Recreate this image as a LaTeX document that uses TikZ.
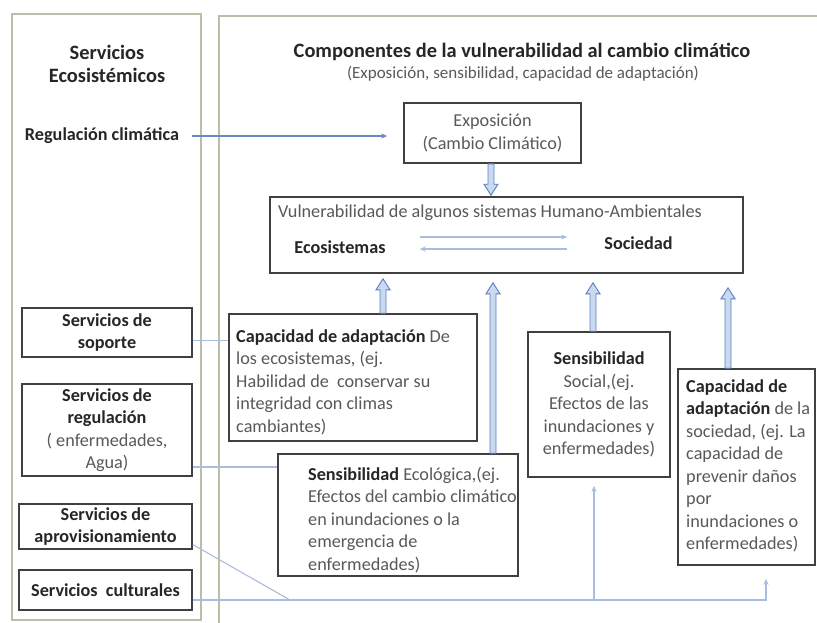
\documentclass[tikz,border=0pt]{standalone}
\usepackage{fontspec}
\setmainfont{Carlito}
\usetikzlibrary{calc,arrows.meta}
\definecolor{panelbeige}{HTML}{BDBDA6}
\definecolor{boxgray}{HTML}{404040}
\definecolor{txtgray}{HTML}{595959}
\definecolor{txtdark}{HTML}{262626}
\definecolor{linkblue}{HTML}{A9BEDF}
\definecolor{regblue}{HTML}{6A8BC2}
\definecolor{arrowblue}{HTML}{5B7FBF}
\definecolor{fillblue}{HTML}{C9D9F0}

\newcommand{\kw}[1]{{\bfseries\color{txtdark}#1}}
% hollow block arrow: x, from anchor, to anchor, gap at tip, head length (+ up, - down)
\newcommand{\blockarrow}[5]{%
  \draw[blockarr]
    (#1-3,0 |- #2) -- ($(#1-3,0 |- #3)+(0,#4+#5)$)
    -- ($(#1-7,0 |- #3)+(0,#4+#5)$) -- ($(#1,0 |- #3)+(0,#4)$)
    -- ($(#1+7,0 |- #3)+(0,#4+#5)$) -- ($(#1+3,0 |- #3)+(0,#4+#5)$)
    -- (#1+3,0 |- #2) -- cycle;}

\tikzset{
  panel/.style={draw=panelbeige, line width=2.5pt},
  box/.style={draw=boxgray, line width=1.6pt, inner sep=0pt},
  txt/.style={text=txtgray, font=\fontsize{18.2}{22.5}\selectfont, inner sep=0pt},
  boldtxt/.style={text=txtdark, font=\fontsize{18.2}{22.5}\selectfont\bfseries, inner sep=0pt},
  titletxt/.style={text=txtdark, font=\fontsize{20.4}{23}\selectfont\bfseries, inner sep=0pt},
  link/.style={draw=linkblue, line width=1.1pt},
  regarrow/.style={draw=regblue, line width=1.4pt},
  blockarr/.style={draw=arrowblue, fill=fillblue, line width=0.9pt, line join=miter},
}

\begin{document}
\begin{tikzpicture}[x=1pt, y=-1pt, >={Stealth[length=6pt,width=5pt]}]
  % page 817 x 622, y grows downwards (pixels of the original)
  \path[use as bounding box, fill=white] (0,0) rectangle (817,622);

  % the two panels
  \draw[panel] (12,14) rectangle (201,620);
  \draw[panel] (219,16) rectangle (840,640);

  % titles
  \node[titletxt, align=center] (setit) at (107,64) {Servicios\\Ecosistémicos};
  \node[titletxt] (comptit) at (522,52) {Componentes de la vulnerabilidad al cambio climático};
  \node[txt, font=\fontsize{17}{20}\selectfont] (compsub) at (523,74) {(Exposición, sensibilidad, capacidad de adaptación)};
  \node[boldtxt] (regclim) at (102,136) {Regulación climática};

  % exposure and vulnerability
  \node[box, txt, align=center, minimum width=177pt, minimum height=60pt] (expo) at (492.5,133)
    {Exposición\\(Cambio Climático)};
  \node[box, minimum width=473pt, minimum height=76pt] (vuln) at (506.5,235) {};
  \node[txt] (vulntit) at (490,213) {Vulnerabilidad de algunos sistemas Humano-Ambientales};
  \node[boldtxt] (eco) at (340,247) {Ecosistemas};
  \node[boldtxt] (soc) at (638.5,243) {Sociedad};

  % components
  \node[box, minimum width=248pt, minimum height=127pt] (capeco) at (353,377.5) {};
  \node[txt, align=left, anchor=west] (capecotxt) at (236,382)
    {\kw{Capacidad de adaptación} De\\los ecosistemas, (ej.\\Habilidad de\ \ conservar su\\integridad con climas\\cambiantes)};
  \node[box, minimum width=240pt, minimum height=122pt] (senseco) at (398,515) {};
  \node[txt, align=left, anchor=west] (sensecotxt) at (308,520)
    {\kw{Sensibilidad} Ecológica,(ej.\\Efectos del cambio climático\\en inundaciones o la\\emergencia de\\enfermedades)};
  \node[box, txt, align=center, minimum width=142pt, minimum height=145pt] (senssoc) at (599,404.5)
    {\kw{Sensibilidad}\\Social,(ej.\\Efectos de las\\inundaciones y\\enfermedades)};
  \node[box, minimum width=137pt, minimum height=196pt] (capsoc) at (746.5,467) {};
  \node[txt, align=left, anchor=west] (capsoctxt) at (686,466)
    {\kw{Capacidad de}\\\kw{adaptación} de la\\sociedad, (ej. La\\capacidad de\\prevenir daños\\por\\inundaciones o\\enfermedades)};

  % ecosystem services
  \node[box, boldtxt, align=center, minimum width=170pt, minimum height=49pt] (soporte) at (107,332.5)
    {Servicios de\\soporte};
  \node[box, txt, align=center, minimum width=170pt, minimum height=92pt] (regulacion) at (107,430)
    {\kw{Servicios de}\\\kw{regulación}\\( enfermedades,\\Agua)};
  \node[box, boldtxt, align=center, minimum width=173pt, minimum height=45pt] (aprov) at (105.5,526.5)
    {Servicios de\\aprovisionamiento};
  \node[box, boldtxt, minimum width=173pt, minimum height=40pt] (culturales) at (105.5,590)
    {Servicios\ \ culturales};

  % block arrows into the vulnerability box
  \blockarrow{491}{expo.south}{vuln.north}{-1}{-11}
  \blockarrow{383}{capeco.north}{vuln.south}{5}{11}
  \blockarrow{493}{senseco.north}{vuln.south}{9}{11}
  \blockarrow{593}{senssoc.north}{vuln.south}{9}{11}
  \blockarrow{728}{capsoc.north}{vuln.south}{14}{11}

  % thin connectors
  \draw[regarrow, ->, shorten <=13pt, shorten >=16pt] (regclim.east) -- (regclim.east -| expo.west);
  \draw[link, ->] ($(eco.east)+(34,-10)$) -- ($(soc.west)+(-37,-6)$);
  \draw[link, ->] ($(soc.west)+(-37,6)$) -- ($(eco.east)+(34,2)$);
  \coordinate (sopout) at ([yshift=-8pt]soporte.east);
  \draw[link] (sopout) -- (sopout -| capeco.west);
  \coordinate (regout) at ([yshift=-37pt]regulacion.east);
  \draw[link] (regout) -- (regout -| senseco.west);
  \coordinate (aprovout) at ([yshift=-18pt]aprov.east);
  \coordinate (culout) at ([yshift=-10pt]culturales.east);
  \coordinate (junct) at (290,0 |- culout);
  \draw[link] (aprovout) -- (junct);
  \draw[link, ->] (culout) -| ($(766,0 |- capsoc.south)+(0,13)$);
  \draw[link, ->] (594,0 |- culout) -- ($(594,0 |- senssoc.south)+(0,8)$);
\end{tikzpicture}
\end{document}
